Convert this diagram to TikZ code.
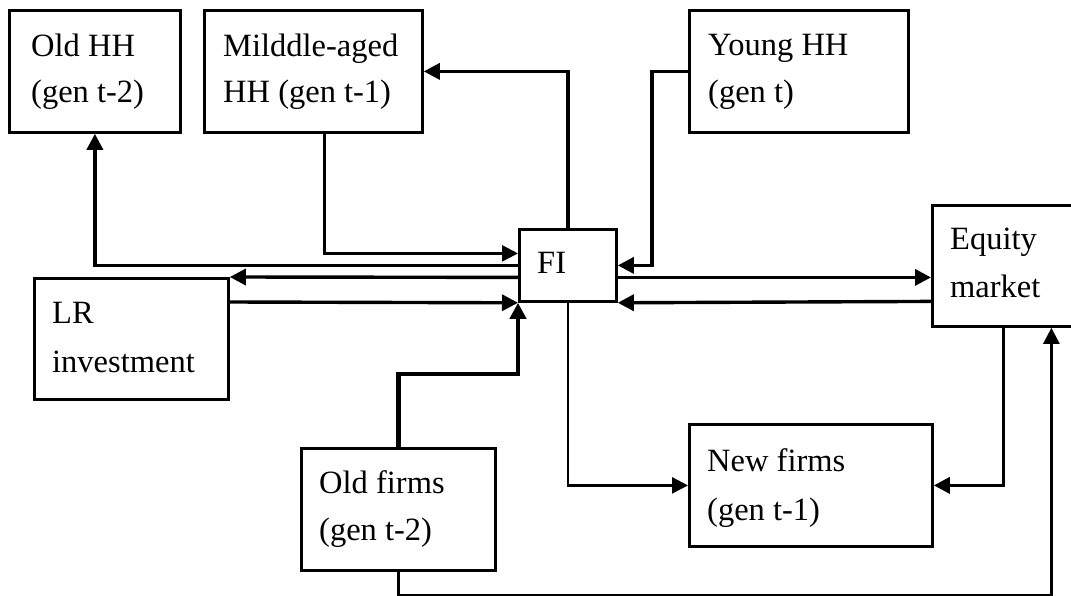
\documentclass[tikz,border=0pt]{standalone}
\usepackage{fontspec}
\setmainfont{Liberation Serif}
\usetikzlibrary{arrows.meta,calc}
\begin{document}
\begin{tikzpicture}[x=1pt,y=-1pt,
  box/.style={draw, line width=2.8pt, inner sep=0pt, anchor=north west},
  lbl/.style={anchor=base west, inner sep=0pt, font=\fontsize{32.5}{38}\selectfont},
  con/.style={line width=3.4pt, -{Triangle[length=16pt,width=16pt]}},
  thn/.style={line width=2.5pt, -{Triangle[length=16pt,width=16pt]}},
  vthk/.style={line width=4.5pt, -{Triangle[length=16pt,width=16pt]}}]
\useasboundingbox (0,0) rectangle (1071,596);
\clip (0,0) rectangle (1071,596);

% boxes
\node[box, minimum width=171pt, minimum height=122pt] (oldhh) at (8,9) {};
\node[box, minimum width=218pt, minimum height=122pt] (mid) at (203,9) {};
\node[box, minimum width=219pt, minimum height=122pt] (young) at (688,9) {};
\node[box, minimum width=97pt, minimum height=72pt] (fi) at (518,228) {};
\node[box, minimum width=160pt, minimum height=121pt] (eq) at (931,204) {};
\node[box, minimum width=194pt, minimum height=121pt] (lr) at (33,277) {};
\node[box, minimum width=194pt, minimum height=122pt] (oldf) at (300,447) {};
\node[box, minimum width=243pt, minimum height=122pt] (newf) at (688,423) {};

% labels
\node[lbl] (t1a) at (31,57) {Old HH};
\node[lbl] (t1b) at (31,103) {(gen t-2)};
\node[lbl] (t2a) at (223,57) {Milddle-aged};
\node[lbl] (t2b) at (223,103) {HH (gen t-1)};
\node[lbl] (t3a) at (708,56) {Young HH};
\node[lbl] (t3b) at (708,103) {(gen t)};
\node[lbl] (t4) at (537,273) {FI};
\node[lbl] (t5a) at (950,250) {Equity};
\node[lbl] (t5b) at (950,298) {market};
\node[lbl] (t6a) at (52,323) {LR};
\node[lbl] (t6b) at (52,372) {investment};
\node[lbl] (t7a) at (319,493) {Old firms};
\node[lbl] (t7b) at (319,540) {(gen t-2)};
\node[lbl] (t8a) at (707,471) {New firms};
\node[lbl] (t8b) at (707,520) {(gen t-1)};

% connectors
\draw[con] (fi.north) |- (mid.east);
\draw[con] (young.west) -- ++(-36,0) |- (fi.east);
\draw[thn] ([xshift=11pt]mid.south) |- ($(fi.west)+(0,-12)$);
\draw[con] (fi.west) -| (oldhh.south);
\draw[con] ($(fi.west)+(0,12)$) -- (lr.north east);
\draw[con] ($(lr.north east)+(0,25)$) -- (fi.south west);
\draw[vthk] (oldf.north) -- ++(0,-73) -| (fi.south west);
\draw[thn] (fi.south) |- (newf.west);
\draw[con] ($(fi.east)+(0,12)$) -- ($(eq.west)+(0,11.5)$);
\draw[con] ($(eq.west)+(0,35.5)$) -- (fi.south east);
\draw[con] ([xshift=-9pt]eq.south) |- (newf.east);
\draw[thn] (oldf.south) -- ++(0,23) -| ([xshift=39pt]eq.south);
\end{tikzpicture}
\end{document}
